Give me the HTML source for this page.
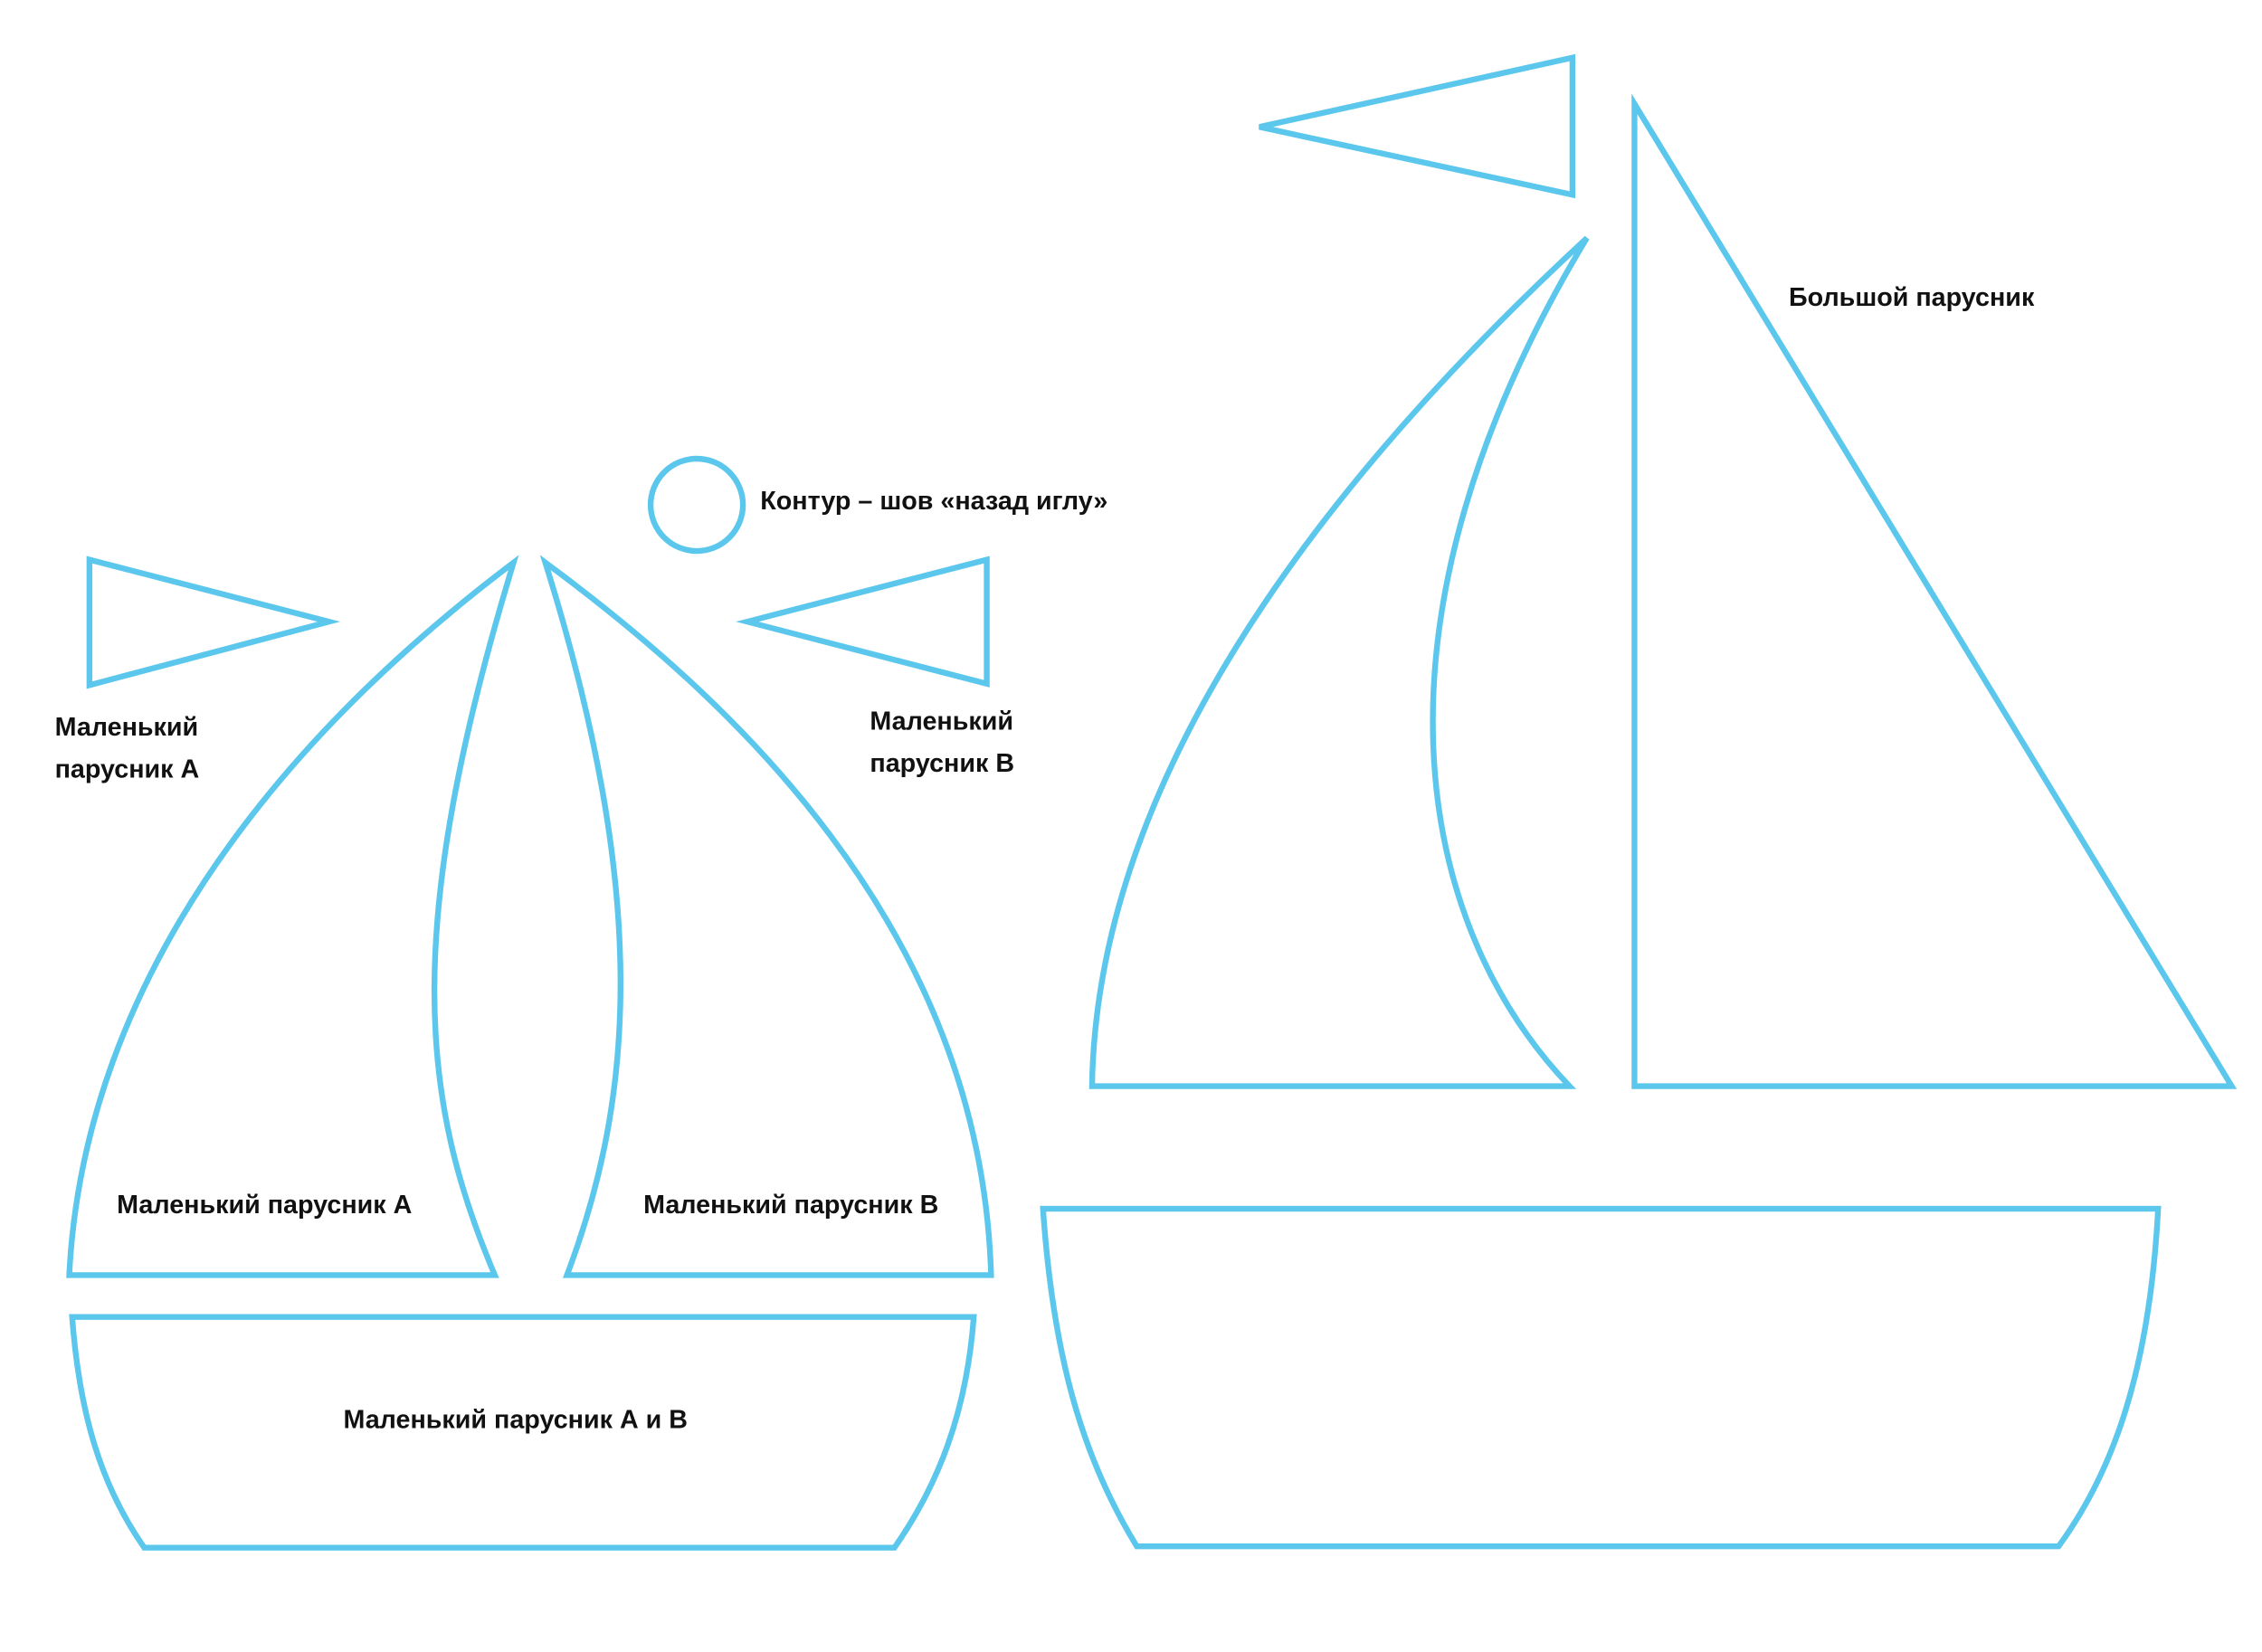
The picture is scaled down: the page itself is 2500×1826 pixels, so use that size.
<!DOCTYPE html>
<html><head><meta charset="utf-8"><style>
html,body{margin:0;padding:0;background:#fff;width:2500px;height:1826px;overflow:hidden}
svg{display:block}
text{font-family:"Liberation Sans","DejaVu Sans",sans-serif;font-weight:bold;font-size:18px;fill:#111}
</style></head><body>
<svg width="2500" height="1826" viewBox="0 0 1568 1145.3" preserveAspectRatio="none" xmlns="http://www.w3.org/2000/svg">
<g fill="none" stroke="#5cc7ec" stroke-width="4" stroke-linejoin="miter">
<polygon points="62,388 228,431 62,475"/>
<polygon points="518,431 684,388 684,474"/>
<circle cx="483" cy="350" r="32"/>
<path d="M356,390 C250,470 60,640 48,884 L343,884 C290,760 280,640 356,390 Z"/>
<path d="M378,390 C500,480 680,640 687,884 L393,884 C440,760 450,620 378,390 Z"/>
<path d="M50,913 L675,913 C670,980 650,1030 620,1073 L100,1073 C70,1030 55,980 50,913 Z"/>
<polygon points="873,88 1090,40 1090,135"/>
<path d="M1100,165 C900,350 760,550 757,753 L1088,753 C980,640 940,430 1100,165 Z"/>
<polygon points="1133,72 1133,753 1547,753"/>
<path d="M723,838 L1496,838 C1490,950 1465,1020 1427,1072 L788,1072 C750,1010 730,940 723,838 Z"/>
</g>
<text x="1240" y="212">Большой парусник</text>
<text x="527" y="353">Контур – шов «назад иглу»</text>
<text x="38" y="510">Маленький</text>
<text x="38" y="539">парусник А</text>
<text x="603" y="506">Маленький</text>
<text x="603" y="535">парусник В</text>
<text x="81" y="841">Маленький парусник А</text>
<text x="446" y="841">Маленький парусник В</text>
<text x="238" y="990">Маленький парусник А и В</text>
</svg>
</body></html>
